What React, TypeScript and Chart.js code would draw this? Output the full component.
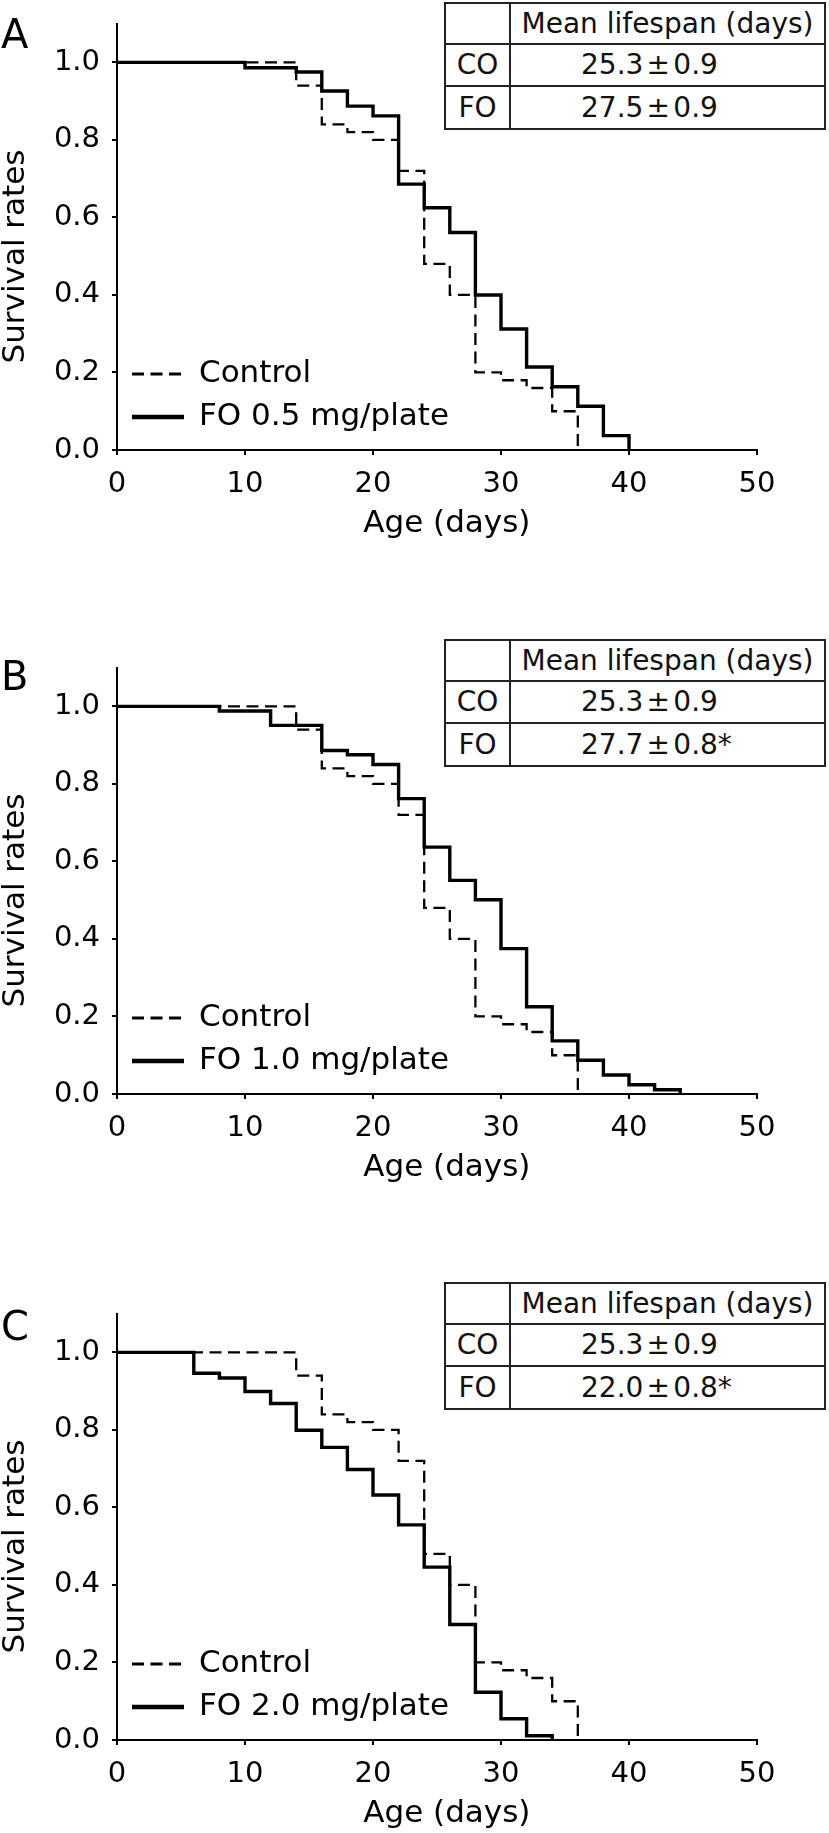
import React, { useEffect, useRef } from "react";
import { Chart, registerables } from "chart.js";

Chart.register(...registerables);

const FONT = "'DejaVu Sans', Verdana, sans-serif";

// ---- data ----
const controlDays = [0, 14, 16, 18, 20, 22, 24, 26, 28, 30, 32, 34, 36];
const controlSurvival = [1.0, 0.94, 0.84, 0.82, 0.8, 0.72, 0.48, 0.4, 0.2, 0.18, 0.16, 0.1, 0.0];

const foADays = [0, 10, 14, 16, 18, 20, 22, 24, 26, 28, 30, 32, 34, 36, 38, 40];
const foASurvival = [1.0, 0.986, 0.975, 0.926, 0.887, 0.862, 0.686, 0.625, 0.561, 0.4, 0.312, 0.214, 0.163, 0.113, 0.037, 0.0];

const foBDays = [0, 8, 12, 16, 18, 20, 22, 24, 26, 28, 30, 32, 34, 36, 38, 40, 42, 44];
const foBSurvival = [1.0, 0.988, 0.951, 0.886, 0.875, 0.85, 0.762, 0.637, 0.551, 0.501, 0.375, 0.225, 0.137, 0.087, 0.049, 0.024, 0.011, 0.0];

const foCDays = [0, 6, 8, 10, 12, 14, 16, 18, 20, 22, 24, 26, 28, 30, 32, 34];
const foCSurvival = [1.0, 0.946, 0.934, 0.899, 0.868, 0.799, 0.755, 0.698, 0.632, 0.555, 0.446, 0.298, 0.123, 0.055, 0.011, 0.0];

const xTickValues = [0, 10, 20, 30, 40, 50];
const yTickValues = [0, 0.2, 0.4, 0.6, 0.8, 1.0];

const panelLetters = ["A", "B", "C"];
const controlLabel = "Control";
const foLabels = ["FO 0.5 mg/plate", "FO 1.0 mg/plate", "FO 2.0 mg/plate"];
const foDaysList = [foADays, foBDays, foCDays];
const foSurvivalList = [foASurvival, foBSurvival, foCSurvival];

const tableHeader = "Mean lifespan (days)";
const groupNames = ["CO", "FO"];
const coMean = ["25.3", "25.3", "25.3"];
const coSem = ["0.9", "0.9", "0.9"];
const foMean = ["27.5", "27.7", "22.0"];
const foSem = ["0.9", "0.8*", "0.8*"];

const xTitle = "Age (days)";
const yTitle = "Survival rates";

// ---- layout (page pixels) ----
const CANVAS_W = 829;
const CANVAS_H = 543;
const canvasTops = [0, 644, 1290];
const tableTops = [2, 639, 1282];
const letterCenters = [33, 675, 1325];

function toPoints(days: number[], vals: number[]) {
  return days.map((d, i) => ({ x: d, y: vals[i] }));
}

const insideLegend = {
  id: "insideLegend",
  afterDatasetsDraw(chart: any) {
    const { ctx, chartArea } = chart;
    const rows = [76, 33];
    const widths = [3.2, 4.6];
    chart.data.datasets.forEach((ds: any, i: number) => {
      const y = chartArea.bottom - rows[i];
      ctx.save();
      ctx.strokeStyle = "#000";
      ctx.lineWidth = widths[i];
      ctx.lineCap = "butt";
      ctx.setLineDash(ds.borderDash || []);
      ctx.beginPath();
      ctx.moveTo(chartArea.left + 15, y);
      ctx.lineTo(chartArea.left + 67, y);
      ctx.stroke();
      ctx.setLineDash([]);
      ctx.fillStyle = "#000";
      ctx.font = `31px ${FONT}`;
      ctx.textAlign = "left";
      ctx.textBaseline = "middle";
      ctx.fillText(ds.label, chartArea.left + 82, y);
      ctx.restore();
    });
  },
};

function Panel({ index }: { index: number }) {
  const ref = useRef<HTMLCanvasElement | null>(null);

  useEffect(() => {
    const canvas = ref.current;
    if (!canvas) return;
    const chart = new Chart(canvas, {
      type: "line",
      data: {
        datasets: [
          {
            label: controlLabel,
            data: toPoints(controlDays, controlSurvival),
            borderColor: "#000",
            borderWidth: 2.3,
            borderDash: [12, 6.5],
            stepped: "before",
            pointRadius: 0,
            fill: false,
            order: 1,
            borderJoinStyle: "miter",
            borderCapStyle: "butt",
          },
          {
            label: foLabels[index],
            data: toPoints(foDaysList[index], foSurvivalList[index]),
            borderColor: "#000",
            borderWidth: 3.4,
            stepped: "before",
            pointRadius: 0,
            fill: false,
            order: 0,
            borderJoinStyle: "miter",
            borderCapStyle: "butt",
          },
        ],
      } as any,
      options: {
        responsive: false,
        animation: false,
        devicePixelRatio: 1,
        events: [],
        layout: { padding: { left: 0, right: 72, top: 12, bottom: 0 } },
        plugins: {
          legend: { display: false },
          tooltip: { enabled: false },
          title: { display: false },
        },
        scales: {
          x: {
            type: "linear",
            min: 0,
            max: 50,
            afterBuildTicks: (s: any) => {
              s.ticks = xTickValues.map((v) => ({ value: v }));
            },
            afterFit: (s: any) => {
              s.height = 93;
            },
            ticks: {
              color: "#000",
              font: { family: FONT, size: 29, lineHeight: 1.2 },
              padding: 12,
              maxRotation: 0,
              autoSkip: false,
              callback: (v: any) => String(v),
            },
            grid: {
              drawOnChartArea: false,
              drawTicks: true,
              tickLength: 5,
              tickWidth: 2,
              tickColor: "#000",
              color: "#000",
              lineWidth: 2,
            },
            border: { display: true, color: "#000", width: 2 },
            title: {
              display: true,
              text: "  " + xTitle,
              color: "#000",
              font: { family: FONT, size: 31, lineHeight: 1.2 },
              padding: { top: 0, bottom: 0 },
            },
          },
          y: {
            type: "linear",
            min: 0,
            max: 1.1,
            afterBuildTicks: (s: any) => {
              s.ticks = yTickValues.map((v) => ({ value: v }));
            },
            afterFit: (s: any) => {
              s.width = 117;
            },
            ticks: {
              color: "#000",
              font: { family: FONT, size: 29, lineHeight: 0.8 },
              padding: 12,
              autoSkip: false,
              callback: (v: any) => Number(v).toFixed(1),
            },
            grid: {
              drawOnChartArea: false,
              drawTicks: true,
              tickLength: 5,
              tickWidth: 2,
              tickColor: "#000",
              color: "#000",
              lineWidth: 2,
            },
            border: { display: true, color: "#000", width: 2 },
            title: {
              display: true,
              text: yTitle + "    ",
              color: "#000",
              font: { family: FONT, size: 31, lineHeight: 1 },
              padding: { top: 0, bottom: 0 },
            },
          },
        },
      } as any,
      plugins: [insideLegend],
    });
    return () => chart.destroy();
  }, [index]);

  const cellBase: React.CSSProperties = {
    display: "flex",
    alignItems: "center",
    boxSizing: "border-box",
    whiteSpace: "nowrap",
  };
  const border = "2px solid #222";

  const valueCell = (mean: string, sem: string) => (
    <span>
      {mean}
      <span style={{ display: "inline-block", width: 30, textAlign: "center" }}>±</span>
      {sem}
    </span>
  );

  return (
    <>
      <canvas
        ref={ref}
        width={CANVAS_W}
        height={CANVAS_H}
        style={{
          position: "absolute",
          left: 0,
          top: canvasTops[index],
          width: CANVAS_W,
          height: CANVAS_H,
        }}
      />
      <div
        style={{
          position: "absolute",
          left: 1,
          top: letterCenters[index] - 23,
          fontSize: 40,
          lineHeight: "48px",
          fontFamily: FONT,
          color: "#000",
        }}
      >
        {panelLetters[index]}
      </div>
      <div
        style={{
          position: "absolute",
          left: 444,
          top: tableTops[index],
          width: 382,
          height: 128,
          border,
          boxSizing: "border-box",
          display: "grid",
          gridTemplateColumns: "65px 1fr",
          gridTemplateRows: "1fr 1fr 1fr",
          fontFamily: FONT,
          fontSize: 28,
          color: "#111",
          background: "#fff",
        }}
      >
        <div style={{ ...cellBase, borderRight: border, borderBottom: border }} />
        <div style={{ ...cellBase, borderBottom: border, justifyContent: "center" }}>{tableHeader}</div>
        <div style={{ ...cellBase, borderRight: border, borderBottom: border, justifyContent: "center" }}>
          {groupNames[0]}
        </div>
        <div style={{ ...cellBase, borderBottom: border, paddingLeft: 70 }}>
          {valueCell(coMean[index], coSem[index])}
        </div>
        <div style={{ ...cellBase, borderRight: border, justifyContent: "center" }}>{groupNames[1]}</div>
        <div style={{ ...cellBase, paddingLeft: 70 }}>{valueCell(foMean[index], foSem[index])}</div>
      </div>
    </>
  );
}

export default function App() {
  return (
    <div
      style={{
        position: "absolute",
        left: 0,
        top: 0,
        width: 829,
        height: 1833,
        overflow: "hidden",
        background: "#fff",
      }}
    >
      {[0, 1, 2].map((i) => (
        <Panel key={i} index={i} />
      ))}
    </div>
  );
}
